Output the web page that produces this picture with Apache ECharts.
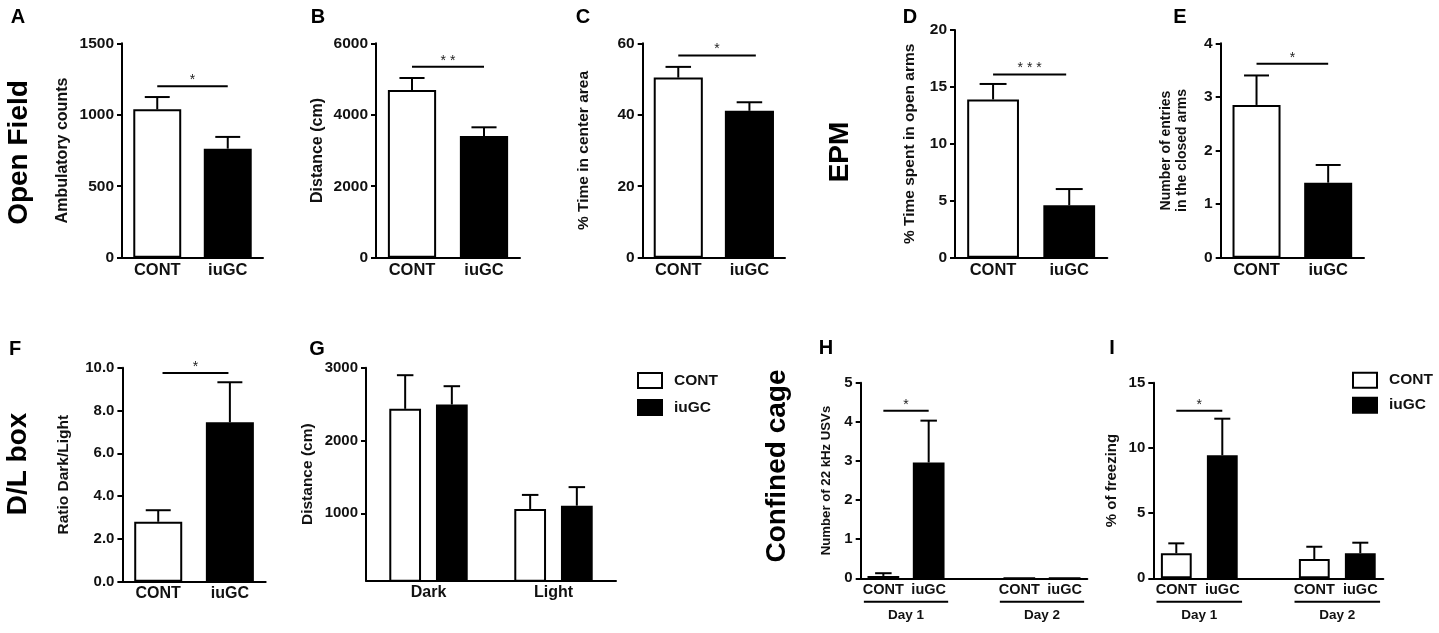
<!DOCTYPE html>
<html>
<head>
<meta charset="utf-8">
<script src="https://cdn.jsdelivr.net/npm/echarts@6.0.0/dist/echarts.min.js"></script>
<style>
html,body{margin:0;padding:0;background:#fff;}
#chart{width:1439px;height:633px;}
</style>
</head>
<body>
<div id="chart"></div>
<script>
// ---------------- DATA ----------------
const groups = ['CONT', 'iuGC'];

const A_mean = [1038, 763];
const A_sem = [86, 82];
const A_sig = [0, 1, 1200];

const B_mean = [4693, 3406];
const B_sem = [336, 243];
const B_sig = [0, 1, 5345];

const C_mean = [50.4, 41.1];
const C_sem = [3.0, 2.4];
const C_sig = [0, 1.09, 56.6];

const D_mean = [13.9, 4.6];
const D_sem = [1.36, 1.43];
const D_sig = [0, 0.96, 16.1];

const E_mean = [2.85, 1.40];
const E_sem = [0.55, 0.33];
const E_sig = [0, 1, 3.62];

const F_mean = [2.80, 7.45];
const F_sem = [0.54, 1.87];
const F_sig = [0.06, 0.98, 9.75];

const G_categories = ['Dark', 'Light'];
const G_cont_mean = [2435, 1060];
const G_cont_sem = [462, 193];
const G_iugc_mean = [2494, 1105];
const G_iugc_sem = [252, 255];
const G_ticks = [1000, 2000, 3000];

const HI_slots = ['CONT', 'iuGC', '', 'CONT', 'iuGC'];
const days = ['Day 1', 'Day 2'];
const day_pairs = [[0, 1], [3, 4]];

const H_mean = [0.06, 2.96, null, 0, 0];
const H_sem = [0.07, 1.07, null, 0, 0];
const H_sig = [0, 1, 4.28];

const I_mean = [1.92, 9.43, null, 1.48, 1.92];
const I_sem = [0.76, 2.81, null, 0.94, 0.81];
const I_sig = [0, 1, 12.85];

// ---------------- STYLE / LAYOUT ----------------
const FONT = "'Liberation Sans', Arial, Helvetica, sans-serif";
const TXT = '#111';

const panels = [
  {cats: groups, slots: groups, mean: A_mean, sem: A_sem, sig: A_sig, star: '*',
   grid: {left: 122, top: 43.3, width: 141, height: 214.4}, max: 1500, interval: 500,
   name: 'Ambulatory counts', nameSize: 16, nameGap: 51, bw: 0.68, catSize: 16.5, tickSize: 15.5},
  {cats: groups, slots: groups, mean: B_mean, sem: B_sem, sig: B_sig, star: '* *',
   grid: {left: 376, top: 43.3, width: 144, height: 214.4}, max: 6000, interval: 2000,
   name: 'Distance (cm)', nameSize: 16, nameGap: 50, bw: 0.67, catSize: 16.5, tickSize: 15.5},
  {cats: groups, slots: groups, mean: C_mean, sem: C_sem, sig: C_sig, star: '*',
   grid: {left: 642.7, top: 43.3, width: 142.3, height: 214.4}, max: 60, interval: 20,
   name: '% Time in center area', nameSize: 15.5, nameGap: 50, bw: 0.69, catSize: 16.5, tickSize: 15.5},
  {cats: groups, slots: groups, mean: D_mean, sem: D_sem, sig: D_sig, star: '* * *',
   grid: {left: 955, top: 30, width: 152.3, height: 227.7}, max: 20, interval: 5,
   name: '% Time spent in open arms', nameSize: 15.5, nameGap: 37, bw: 0.68, catSize: 16.5, tickSize: 15.5},
  {cats: groups, slots: groups, mean: E_mean, sem: E_sem, sig: E_sig, star: '*',
   grid: {left: 1220.7, top: 43.3, width: 143.3, height: 214.4}, max: 4, interval: 1,
   name: 'Number of entries\nin the closed arms', nameSize: 14, nameGap: 30, lineHeight: 16.6, bw: 0.67, catSize: 16.5, tickSize: 15.5},
  {cats: groups, slots: groups, mean: F_mean, sem: F_sem, sig: F_sig, star: '*',
   grid: {left: 122.4, top: 367.7, width: 143.3, height: 214}, max: 10, interval: 2, fmt1: true,
   name: 'Ratio Dark/Light', nameSize: 15.5, nameGap: 50, bw: 0.67, catSize: 16, tickSize: 15},
  {cats: HI_slots, slots: HI_slots, mean: H_mean, sem: H_sem, sig: H_sig, star: '*', days: true,
   grid: {left: 860.7, top: 382.7, width: 226.6, height: 195.6}, max: 5, interval: 1,
   name: 'Number of 22 kHz USVs', nameSize: 13.2, nameGap: 27, bw: 0.70, catSize: 14.5, tickSize: 15},
  {cats: HI_slots, slots: HI_slots, mean: I_mean, sem: I_sem, sig: I_sig, star: '*', days: true,
   grid: {left: 1153.3, top: 382.7, width: 230, height: 195.6}, max: 15, interval: 5,
   name: '% of freezing', nameSize: 15, nameGap: 33, bw: 0.67, catSize: 14.5, tickSize: 15}
];
const G_layout = {grid: {left: 366, top: 367.7, width: 250, height: 213}, bw: 0.254, gap: 0.47};

const grids = [], xAxes = [], yAxes = [], series = [];

function yAxisBase(p) {
  return {
    type: 'value', gridIndex: grids.length - 1, min: 0, max: p.max, interval: p.interval,
    splitLine: {show: false},
    axisLine: {show: true, lineStyle: {color: '#000', width: 2}},
    axisTick: {show: true, length: 5, lineStyle: {color: '#000', width: 2}},
    axisLabel: {color: TXT, fontFamily: FONT, fontWeight: 'bold', fontSize: p.tickSize || 15, margin: 8,
      formatter: p.fmt1 ? (v => v.toFixed(1)) : (v => String(v))},
    name: p.name, nameLocation: 'middle', nameGap: p.nameGap, nameRotate: 90,
    nameTextStyle: {color: TXT, fontFamily: FONT, fontWeight: 'bold', fontSize: p.nameSize,
      lineHeight: p.lineHeight || p.nameSize * 1.1, align: 'center'}
  };
}
function xAxisBase(cats, size) {
  return {
    type: 'category', gridIndex: grids.length - 1, data: cats,
    axisLine: {show: true, onZero: false, lineStyle: {color: '#000', width: 2}},
    axisTick: {show: false},
    axisLabel: {color: TXT, fontFamily: FONT, fontWeight: 'bold', fontSize: size, margin: 4, interval: 0, hideOverlap: false},
    splitLine: {show: false}
  };
}

function errRender(barFrac) {
  return function (params, api) {
    const cat = api.value(0), m = api.value(1), s = api.value(2);
    let off = api.value(3); if (isNaN(off)) off = 0;
    if (isNaN(m) || !(s > 0)) return null;
    const band = api.size([1, 0])[0];
    const p0 = api.coord([cat, m]);
    const p1 = api.coord([cat, m + s]);
    const x = p0[0] + off * band;
    const half = barFrac * band * 0.26;
    return {type: 'group', children: [
      {type: 'line', shape: {x1: x, y1: p0[1], x2: x, y2: p1[1]}, style: {stroke: '#000', lineWidth: 2}},
      {type: 'line', shape: {x1: x - half, y1: p1[1], x2: x + half, y2: p1[1]}, style: {stroke: '#000', lineWidth: 2}}
    ]};
  };
}
function xAt(api, v) {
  const i = Math.floor(v);
  const band = api.size([1, 0])[0];
  return api.coord([i, 0])[0] + (v - i) * band;
}
function sigRender(label) {
  return function (params, api) {
    const x1 = xAt(api, api.value(0)), x2 = xAt(api, api.value(1));
    const y = api.coord([0, api.value(2)])[1];
    return {type: 'group', children: [
      {type: 'line', shape: {x1: x1, y1: y, x2: x2, y2: y}, style: {stroke: '#000', lineWidth: 2}},
      {type: 'text', x: (x1 + x2) / 2, y: y - 6, style: {text: label, fill: '#222', font: '14px ' + FONT, textAlign: 'center', textVerticalAlign: 'middle'}}
    ]};
  };
}
function dayRender(params, api) {
  const band = api.size([1, 0])[0];
  const xa = api.coord([api.value(0), 0])[0] - 0.43 * band;
  const xb = api.coord([api.value(1), 0])[0] + 0.43 * band;
  const y0 = api.coord([api.value(0), 0])[1];
  const yl = y0 + 23.4;
  return {type: 'group', children: [
    {type: 'line', shape: {x1: xa, y1: yl, x2: xb, y2: yl}, style: {stroke: '#000', lineWidth: 2}},
    {type: 'text', x: (xa + xb) / 2, y: yl + 13.5, style: {text: days[params.dataIndex], fill: TXT, font: 'bold 13.5px ' + FONT, textAlign: 'center', textVerticalAlign: 'middle'}}
  ]};
}

const contStyle = {color: '#fff', borderColor: '#000', borderWidth: 2};
const iugcStyle = {color: '#000', borderColor: '#000', borderWidth: 2};

panels.forEach(p => {
  grids.push(Object.assign({containLabel: false, outerBoundsMode: 'none'}, p.grid));
  const k = grids.length - 1;
  xAxes.push(xAxisBase(p.cats, p.catSize));
  yAxes.push(yAxisBase(p));
  const pct = Math.round(p.bw * 1000) / 10 + '%';
  series.push({type: 'bar', name: 'CONT', xAxisIndex: k, yAxisIndex: k, barWidth: pct, barGap: '-100%',
    data: p.mean.map((v, i) => p.slots[i] === 'CONT' ? v : null), itemStyle: contStyle, silent: true});
  series.push({type: 'bar', name: 'iuGC', xAxisIndex: k, yAxisIndex: k, barWidth: pct, barGap: '-100%',
    data: p.mean.map((v, i) => p.slots[i] === 'iuGC' ? v : null), itemStyle: iugcStyle, silent: true});
  series.push({type: 'custom', xAxisIndex: k, yAxisIndex: k, z: 5, silent: true,
    renderItem: errRender(p.bw), encode: {x: 0, y: 1},
    data: p.mean.map((v, i) => v == null ? null : [i, v, p.sem[i], 0]).filter(d => d)});
  series.push({type: 'custom', xAxisIndex: k, yAxisIndex: k, z: 5, silent: true,
    renderItem: sigRender(p.star), encode: {x: 0, y: 2}, data: [p.sig]});
  if (p.days) {
    series.push({type: 'custom', xAxisIndex: k, yAxisIndex: k, z: 5, silent: true, clip: false,
      renderItem: dayRender, encode: {x: [0, 1], y: 2}, data: day_pairs.map(d => [d[0], d[1], 0])});
  }
});

// Panel G
(function () {
  grids.push(Object.assign({containLabel: false, outerBoundsMode: 'none'}, G_layout.grid));
  const k = grids.length - 1;
  xAxes.push(xAxisBase(G_categories, 16));
  const ya = yAxisBase({max: 3000, name: 'Distance (cm)', nameSize: 15.5, nameGap: 49.6, tickSize: 15});
  ya.min = 75; delete ya.interval;
  ya.axisLabel.customValues = G_ticks;
  ya.axisTick.customValues = G_ticks;
  yAxes.push(ya);
  const bw = G_layout.bw, gap = G_layout.gap;
  const off = (bw + bw * gap) / 2;
  series.push({type: 'bar', name: 'CONT', xAxisIndex: k, yAxisIndex: k, barWidth: (bw * 100) + '%', barGap: (gap * 100) + '%',
    data: G_cont_mean, itemStyle: contStyle, silent: true});
  series.push({type: 'bar', name: 'iuGC', xAxisIndex: k, yAxisIndex: k, barWidth: (bw * 100) + '%', barGap: (gap * 100) + '%',
    data: G_iugc_mean, itemStyle: iugcStyle, silent: true});
  const errs = [];
  G_cont_mean.forEach((v, i) => errs.push([i, v, G_cont_sem[i], -off]));
  G_iugc_mean.forEach((v, i) => errs.push([i, v, G_iugc_sem[i], off]));
  series.push({type: 'custom', xAxisIndex: k, yAxisIndex: k, z: 5, silent: true,
    renderItem: errRender(bw), encode: {x: 0, y: 1}, data: errs});
})();

function legendAt(left, top, gapY) {
  return {
    left: left, top: top, orient: 'vertical', padding: 0, itemGap: gapY, itemWidth: 24, itemHeight: 15,
    icon: 'rect', selectedMode: false,
    textStyle: {color: TXT, fontFamily: FONT, fontWeight: 'bold', fontSize: 15.5, padding: [0, 0, 0, 7]},
    data: [
      {name: 'CONT', itemStyle: {color: '#fff', borderColor: '#000', borderWidth: 2}},
      {name: 'iuGC', itemStyle: {color: '#000', borderColor: '#000', borderWidth: 2}}
    ]
  };
}

function bigText(text, x, y, size, rotate) {
  return {type: 'text', x: x, y: y, rotation: rotate ? Math.PI / 2 : 0, silent: true,
    style: {text: text, fill: '#000', font: 'bold ' + size + 'px ' + FONT, textAlign: 'center', textVerticalAlign: 'middle'}};
}

const graphic = [
  bigText('A', 18, 17, 20), bigText('B', 318, 17, 20), bigText('C', 583, 17, 20),
  bigText('D', 910, 17, 20), bigText('E', 1180, 17, 20),
  bigText('F', 15, 349, 20), bigText('G', 317, 349, 20), bigText('H', 826, 348.5, 20), bigText('I', 1112, 348.5, 20),
  bigText('Open Field', 19, 152.5, 28, true),
  bigText('EPM', 840, 152, 28, true),
  bigText('D/L box', 18, 464, 28, true),
  bigText('Confined cage', 777, 466, 28, true)
];

const chart = echarts.init(document.getElementById('chart'), null, {renderer: 'canvas'});
chart.setOption({
  animation: false,
  backgroundColor: '#fff',
  textStyle: {fontFamily: FONT},
  grid: grids,
  xAxis: xAxes,
  yAxis: yAxes,
  legend: [legendAt(637, 372, 10), legendAt(1352, 371.7, 8)],
  series: series,
  graphic: graphic
});
</script>
</body>
</html>
